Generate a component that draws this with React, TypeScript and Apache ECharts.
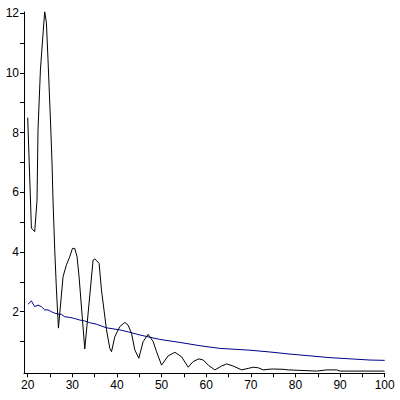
import React, { useEffect, useRef } from "react";
import * as echarts from "echarts";

const blackX = [20, 20.83, 21.57, 22.09, 22.31, 22.85, 23.43, 23.81, 24.19, 24.55, 25.16, 25.45, 25.67, 26.06, 26.44, 26.89, 27.92, 28.68, 29.42, 30.03, 30.54, 31.06, 31.51, 32.79, 34.65, 35.03, 36.0, 36.53, 37.66, 38.4, 38.78, 39.52, 40.64, 41.76, 42.5, 43.26, 44.0, 44.9, 45.87, 46.99, 48.11, 48.87, 49.99, 51.47, 52.98, 54.48, 55.96, 57.08, 58.36, 59.33, 60.45, 61.95, 63.45, 64.58, 66.06, 67.94, 69.42, 70.54, 71.67, 72.79, 73.91, 75.03, 77.2, 78.4, 84.77, 87.01, 89.26, 90.0, 100];
const blackY = [8.5, 4.8, 4.68, 5.73, 8.09, 10.1, 11.3, 12.05, 11.68, 10.45, 8.19, 6.98, 5.74, 4.07, 2.73, 1.45, 3.17, 3.57, 3.84, 4.12, 4.12, 3.84, 3.17, 0.75, 3.73, 3.77, 3.62, 2.73, 1.39, 0.77, 0.66, 1.16, 1.5, 1.64, 1.55, 1.28, 0.72, 0.44, 1.0, 1.24, 1.0, 0.66, 0.21, 0.52, 0.64, 0.49, 0.14, 0.33, 0.42, 0.38, 0.21, 0.05, 0.18, 0.25, 0.18, 0.05, 0.1, 0.14, 0.12, 0.05, 0.07, 0.08, 0.07, 0.05, 0.01, 0.05, 0.05, 0.01, 0.01];

const blueX = [20.07, 20.83, 21.57, 22.31, 23.07, 23.81, 24.55, 25.32, 26.06, 26.8, 27.56, 28.3, 29.42, 30.54, 31.67, 32.79, 33.91, 35.41, 37.66, 40.64, 42.88, 45.13, 49.61, 54.1, 58.59, 63.07, 69.8, 74.29, 78.78, 83.26, 87.75, 92.24, 96.72, 100];
const blueY = [2.25, 2.36, 2.17, 2.22, 2.17, 2.06, 2.06, 2.0, 1.95, 1.92, 1.91, 1.83, 1.81, 1.77, 1.72, 1.69, 1.63, 1.58, 1.46, 1.39, 1.31, 1.22, 1.07, 0.97, 0.86, 0.77, 0.71, 0.65, 0.58, 0.52, 0.46, 0.42, 0.38, 0.37];

const xLabelValues = [20, 30, 40, 50, 60, 70, 80, 90, 100];
const xTickValues = [20, 25, 30, 35, 40, 45, 50, 55, 60, 65, 70, 75, 80, 85, 90, 95, 100];
const yLabelValues = [2, 4, 6, 8, 10, 12];
const yTickValues = [1, 2, 3, 4, 5, 6, 7, 8, 9, 10, 11, 12];

export default function App() {
  const ref = useRef<HTMLDivElement>(null);
  useEffect(() => {
    if (!ref.current) return;
    const chart = echarts.init(ref.current, undefined, { renderer: "svg" });
    const labelStyle = {
      color: "#000",
      fontFamily: "Liberation Sans",
      fontSize: 12,
    };
    chart.setOption({
      animation: false,
      backgroundColor: "#fff",
      grid: { left: 24, right: 15.3, top: 12, bottom: 26.7, containLabel: false },
      xAxis: {
        type: "value",
        min: 19.17,
        max: 100,
        axisLine: { onZero: false, lineStyle: { color: "#000", width: 1 } },
        axisTick: { show: true, length: 4, customValues: xTickValues, lineStyle: { color: "#000" } },
        axisLabel: { ...labelStyle, margin: 6, customValues: xLabelValues },
        splitLine: { show: false },
      },
      yAxis: {
        type: "value",
        min: -0.064,
        max: 12.04,
        axisLine: { show: true, onZero: false, lineStyle: { color: "#000", width: 1 } },
        axisTick: { show: true, length: 4, customValues: yTickValues, lineStyle: { color: "#000" } },
        axisLabel: { ...labelStyle, margin: 5, customValues: yLabelValues },
        splitLine: { show: false },
      },
      series: [
        {
          type: "line",
          data: blackX.map((x, i) => [x, blackY[i]]),
          showSymbol: false,
          symbol: "none",
          lineStyle: { color: "#000", width: 1 },
          z: 3,
        },
        {
          type: "line",
          data: blueX.map((x, i) => [x, blueY[i]]),
          showSymbol: false,
          symbol: "none",
          lineStyle: { color: "#00008c", width: 1 },
          z: 2,
        },
      ],
    });
    return () => chart.dispose();
  }, []);
  return <div ref={ref} style={{ width: 400, height: 400, position: "absolute", left: 0, top: 0 }} />;
}
